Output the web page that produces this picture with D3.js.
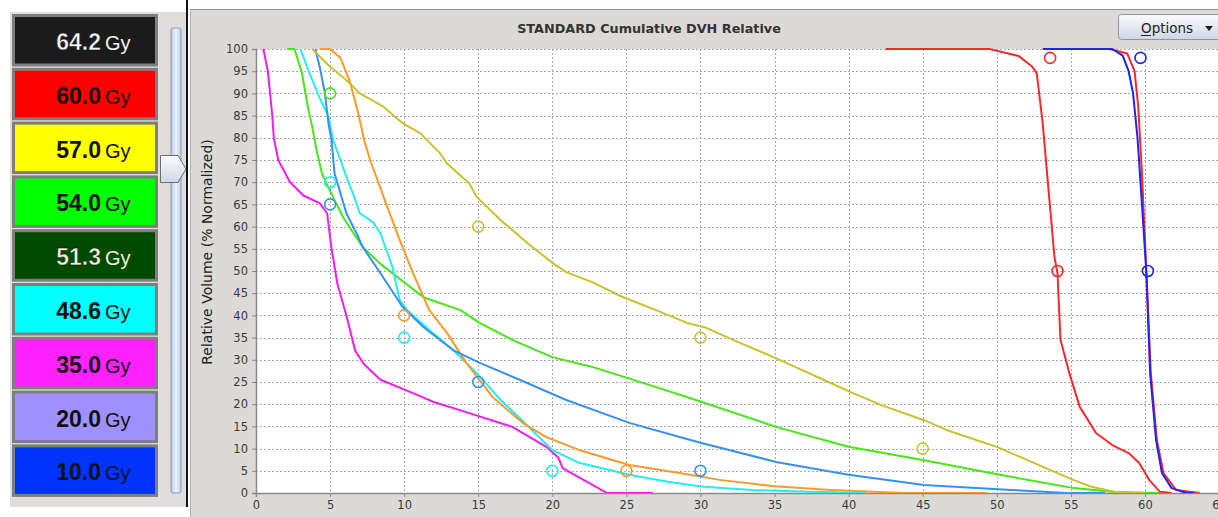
<!DOCTYPE html>
<html>
<head>
<meta charset="utf-8">
<script src="https://cdn.jsdelivr.net/npm/d3@7"></script>
<style>
  html, body { margin: 0; padding: 0; background: #fff; }
  svg { display: block; }
</style>
</head>
<body>
<div id="chart"></div>
<script>
'use strict';

// isodose legend
const doseLevels = ['64.2', '60.0', '57.0', '54.0', '51.3', '48.6', '35.0', '20.0', '10.0'];
const doseFills = ['#1b1b1b', '#ff0000', '#ffff00', '#00ff00', '#004b00', '#00ffff', '#ff22ff', '#a090ff', '#0033ff'];
const doseTextFills = ['#f4f4f4', '#111', '#111', '#111', '#f3f0d8', '#111', '#111', '#111', '#111'];

const xTicks = [0, 5, 10, 15, 20, 25, 30, 35, 40, 45, 50, 55, 60, 65];
const yTicks = [0, 5, 10, 15, 20, 25, 30, 35, 40, 45, 50, 55, 60, 65, 70, 75, 80, 85, 90, 95, 100];

// DVH curves, [dose Gy, volume %]
const magentaDvh = [[0.5, 100], [0.8, 95], [1.1, 85], [1.2, 80], [1.5, 75], [2.3, 70], [3.2, 67], [4.3, 65.3], [4.8, 63], [5.1, 55], [5.5, 47], [6.1, 40], [6.7, 32], [7.3, 29], [8.4, 25.5], [10.6, 22.5], [12.0, 20.5], [14.4, 18], [17.3, 14.9], [19.6, 10.4], [20.4, 8], [20.7, 5.6], [22.2, 2.8], [23.7, 0], [26.8, 0]];
const greenDvh = [[2.1, 100], [2.6, 100], [3.1, 94.6], [3.5, 87], [3.8, 82.4], [4.1, 77], [4.45, 72], [5.0, 68], [5.9, 62], [7.2, 55.4], [8.4, 51.6], [11.3, 44.1], [13.8, 41.2], [15.1, 38.3], [17.3, 34.5], [20.0, 30.6], [22.7, 28.4], [26.6, 24.3], [30.0, 20.6], [35.1, 14.9], [40.0, 10.4], [45.1, 7.4], [50.2, 4.1], [55.2, 1.1], [58.0, 0.2], [61.0, 0]];
const cyanDvh = [[3.0, 100], [3.6, 94.6], [4.3, 89], [4.9, 84.7], [5.2, 79.5], [5.7, 75], [6.1, 71.2], [6.6, 67], [7.0, 63], [7.9, 61], [8.4, 58.5], [9.2, 51], [9.7, 43.5], [10.2, 41.2], [11.7, 36.7], [13.3, 32.2], [14.9, 27], [16.5, 21], [18.0, 16.2], [20.0, 9.7], [21.8, 6.8], [25.2, 4.1], [28.0, 2.4], [30.2, 1.4], [33.5, 0.7], [37.3, 0.3], [41.2, 0]];
const blueDvh = [[4.0, 100], [4.3, 96], [4.65, 90], [4.9, 83], [5.1, 79.5], [5.3, 72], [5.7, 67.5], [6.1, 63], [6.9, 57.7], [7.2, 55.4], [8.4, 49.5], [9.9, 41.9], [11.3, 37.4], [13.3, 32.2], [15.1, 29.3], [17.8, 25.5], [20.9, 21], [25.2, 15.8], [28.6, 12.6], [30.0, 11.3], [35.1, 7.0], [40.0, 4.1], [45.1, 1.8], [51.0, 0.7], [54.7, 0], [57.3, 0]];
const orangeDvh = [[4.3, 100], [5.0, 100], [5.7, 98], [6.3, 93], [6.9, 85.6], [7.3, 79.5], [7.7, 75], [8.2, 70.5], [8.8, 65], [9.7, 57], [10.6, 49.5], [11.7, 41.2], [12.9, 36], [14.2, 29.3], [15.3, 24.5], [16.0, 21.5], [18.0, 15.8], [19.6, 12.6], [21.8, 9.7], [25.2, 6.3], [28.6, 4.5], [31.4, 2.9], [35.0, 1.5], [38.8, 0.7], [43.7, 0], [49.3, 0]];
const oliveDvh = [[3.8, 100], [5.0, 96], [6.1, 93], [7.0, 90], [8.6, 87], [9.9, 83.3], [11.1, 81], [12.4, 76.6], [12.9, 74.2], [14.4, 69.7], [14.9, 66.7], [16.5, 61.5], [18.5, 55.8], [20.1, 51.6], [20.9, 49.8], [22.7, 47.5], [24.7, 44.2], [27.0, 41.2], [29.1, 38.3], [30.4, 37.2], [32.2, 34.5], [35.0, 30.5], [38.3, 25.5], [40.3, 22.5], [42.2, 19.8], [45.1, 16.4], [46.6, 14.2], [50.0, 10.4], [52.5, 6.8], [55.2, 2.9], [56.4, 1.4], [58.3, 0], [60.0, 0]];
const redDvh = [[42.5, 100], [49.5, 100], [50.5, 99.2], [51.5, 98.4], [52.4, 96], [52.7, 94.5], [53.1, 83.3], [53.5, 68], [53.9, 53], [54.1, 49.5], [54.3, 34.5], [54.9, 27], [55.6, 19.4], [56.7, 13.5], [57.8, 10.8], [58.9, 9], [59.6, 6.8], [60.3, 2.9], [61.0, 0.3], [61.8, 0]];
const red2Dvh = [[57.6, 100], [58.8, 99], [59.3, 95], [59.55, 87], [59.8, 72], [60.1, 49.5], [60.4, 27], [60.8, 12], [61.25, 4.5], [62.1, 0.7], [63.7, 0]];
const darkBlueDvh = [[53.1, 100], [57.8, 100], [58.5, 98.5], [58.9, 95], [59.2, 90], [59.5, 80], [59.8, 65], [60.1, 49.5], [60.35, 27], [60.75, 12], [61.15, 4.5], [61.8, 1.1], [62.8, 0], [63.3, 0]];

// dose/volume constraint markers
const markerDose = [5, 5, 5, 10, 10, 15, 15, 20, 25, 30, 30, 45, 53.6, 54.1, 59.7, 60.2];
const markerVolume = [90, 70, 65, 40, 35, 25, 60, 5, 5, 5, 35, 10, 98, 50, 98, 50];
const markerSeries = ['green', 'cyan', 'blue', 'orange', 'cyan', 'blue', 'olive', 'cyan', 'orange', 'blue', 'olive', 'olive', 'red', 'red', 'darkBlue', 'darkBlue'];

const colors = {
  magenta: '#f41cf0',
  green: '#44e815',
  cyan: '#22eef0',
  blue: '#3592f5',
  orange: '#f99a2a',
  olive: '#c9c22c',
  red: '#f52a2a',
  darkBlue: '#2424e6'
};

const curves = [
  { name: 'magenta', data: magentaDvh },
  { name: 'green', data: greenDvh },
  { name: 'cyan', data: cyanDvh },
  { name: 'orange', data: orangeDvh },
  { name: 'blue', data: blueDvh },
  { name: 'olive', data: oliveDvh },
  { name: 'red', data: redDvh },
  { name: 'red', data: red2Dvh },
  { name: 'darkBlue', data: darkBlueDvh }
];

const W = 1218, H = 517;
const plot = { left: 256, top: 49, right: 1219, bottom: 493 };
const uiFont = '"DejaVu Sans", Verdana, sans-serif';

const svg = d3.select('#chart').append('svg')
  .attr('width', W).attr('height', H);

const defs = svg.append('defs');
const trackGrad = defs.append('linearGradient').attr('id', 'track').attr('x1', 0).attr('x2', 1);
trackGrad.append('stop').attr('offset', '0%').attr('stop-color', '#b4c6de');
trackGrad.append('stop').attr('offset', '50%').attr('stop-color', '#eef3fa');
trackGrad.append('stop').attr('offset', '100%').attr('stop-color', '#b9cbe3');
const btnGrad = defs.append('linearGradient').attr('id', 'btn').attr('x1', 0).attr('x2', 0).attr('y1', 0).attr('y2', 1);
btnGrad.append('stop').attr('offset', '0%').attr('stop-color', '#fbfcfe');
btnGrad.append('stop').attr('offset', '100%').attr('stop-color', '#cdd7e6');

drawLegendPanel();
drawChartPanel();

function drawLegendPanel() {
  const g = svg.append('g');
  g.append('rect').attr('x', 10).attr('y', 12).attr('width', 176).attr('height', 495)
    .attr('fill', '#dfdedb');

  const pitch = 53.8;
  doseLevels.forEach((lvl, i) => {
    const y0 = 15 + i * pitch;
    g.append('rect')
      .attr('x', 13.5).attr('y', y0 + 0.5).attr('width', 143).attr('height', 49.5)
      .attr('fill', doseFills[i]).attr('stroke', '#7e7e7e').attr('stroke-width', 3);
    g.append('text')
      .attr('x', 101).attr('y', y0 + 35)
      .attr('text-anchor', 'end')
      .style('font', 'bold 23px "Liberation Sans", Arial, sans-serif')
      .attr('fill', doseTextFills[i])
      .attr('stroke', i === 0 || i === 4 ? '#000' : 'none')
      .attr('stroke-width', 0.4)
      .text(lvl);
    g.append('text')
      .attr('x', 105).attr('y', y0 + 35)
      .style('font', '20px "Liberation Sans", Arial, sans-serif')
      .attr('fill', doseTextFills[i])
      .text('Gy');
  });

  // slider
  g.append('rect').attr('x', 171).attr('y', 28).attr('width', 10).attr('height', 465)
    .attr('rx', 2).attr('fill', 'url(#track)').attr('stroke', '#8aa0c0');
  g.append('path')
    .attr('d', 'M160.5,155.5 H178 L186,169 L178,182.5 H160.5 Z')
    .attr('fill', 'url(#btn)').attr('stroke', '#6f6f6f');

  g.append('rect').attr('x', 186).attr('y', 0).attr('width', 2).attr('height', 507)
    .attr('fill', '#111');
}

function drawChartPanel() {
  const g = svg.append('g');
  g.append('rect').attr('x', 190).attr('y', 9).attr('width', W - 190).attr('height', H - 9)
    .attr('fill', '#dcdad6');
  g.append('line').attr('x1', 190).attr('x2', W).attr('y1', 9.5).attr('y2', 9.5)
    .attr('stroke', '#8d9299');
  g.append('line').attr('x1', 190.5).attr('x2', 190.5).attr('y1', 9).attr('y2', H)
    .attr('stroke', '#b0b0b0');

  g.append('text')
    .attr('x', 649).attr('y', 33)
    .attr('text-anchor', 'middle')
    .style('font', `bold 12.8px ${uiFont}`)
    .attr('fill', '#333')
    .text('STANDARD Cumulative DVH Relative');

  // Options button
  g.append('rect').attr('x', 1118.5).attr('y', 14.5).attr('width', 110).attr('height', 25)
    .attr('rx', 3).attr('fill', 'url(#btn)').attr('stroke', '#8797ad');
  g.append('text')
    .attr('x', 1141).attr('y', 33)
    .style('font', `13.5px ${uiFont}`)
    .attr('fill', '#222')
    .text('Options');
  g.append('line').attr('x1', 1141).attr('x2', 1151).attr('y1', 35.5).attr('y2', 35.5)
    .attr('stroke', '#222');
  g.append('path').attr('d', 'M1205,26 L1213,26 L1209,31 Z').attr('fill', '#222');

  const x = d3.scaleLinear().domain([0, 65]).range([plot.left, plot.right]);
  const y = d3.scaleLinear().domain([0, 100]).range([plot.bottom, plot.top]);

  g.append('rect')
    .attr('x', plot.left).attr('y', plot.top)
    .attr('width', plot.right - plot.left).attr('height', plot.bottom - plot.top)
    .attr('fill', '#fff');

  // grid
  const grid = g.append('g').attr('stroke', '#a9a9a9').attr('stroke-dasharray', '2,2');
  grid.selectAll('line.v').data(xTicks.filter(d => d > 0)).join('line')
    .attr('x1', d => Math.round(x(d)) + 0.5).attr('x2', d => Math.round(x(d)) + 0.5)
    .attr('y1', plot.top).attr('y2', plot.bottom);
  grid.selectAll('line.h').data(yTicks.filter(d => d > 0)).join('line')
    .attr('y1', d => Math.round(y(d)) + 0.5).attr('y2', d => Math.round(y(d)) + 0.5)
    .attr('x1', plot.left).attr('x2', plot.right);

  const xAxis = g.append('g')
    .attr('transform', `translate(0,${plot.bottom})`)
    .call(d3.axisBottom(x).tickValues(xTicks).tickSize(4).tickPadding(4).tickFormat(d3.format('d')));
  const yAxis = g.append('g')
    .attr('transform', `translate(${plot.left},0)`)
    .call(d3.axisLeft(y).tickValues(yTicks).tickSize(4).tickPadding(4).tickFormat(d3.format('d')));
  [xAxis, yAxis].forEach(ax => {
    ax.select('.domain').attr('stroke', '#8a8a8a').attr('stroke-width', 1.5);
    ax.selectAll('.tick line').attr('stroke', '#8a8a8a');
    ax.selectAll('.tick text')
      .style('font', `11.5px ${uiFont}`)
      .attr('fill', '#3a3a3a');
  });

  g.append('text')
    .attr('transform', 'translate(212,252) rotate(-90)')
    .attr('text-anchor', 'middle')
    .style('font', `14px ${uiFont}`)
    .attr('fill', '#222')
    .text('Relative Volume (% Normalized)');

  // curves
  const clip = defs.append('clipPath').attr('id', 'plotclip');
  clip.append('rect').attr('x', plot.left).attr('y', plot.top - 2)
    .attr('width', plot.right - plot.left).attr('height', plot.bottom - plot.top + 2);

  const line = d3.line().x(d => x(d[0])).y(d => y(d[1]));
  const layer = g.append('g').attr('clip-path', 'url(#plotclip)');
  layer.selectAll('path.dvh').data(curves).join('path')
    .attr('class', 'dvh')
    .attr('d', d => line(d.data))
    .attr('fill', 'none')
    .attr('stroke', d => colors[d.name])
    .attr('stroke-width', 2)
    .attr('stroke-linejoin', 'round');

  layer.selectAll('circle.marker').data(markerDose).join('circle')
    .attr('class', 'marker')
    .attr('cx', d => x(d))
    .attr('cy', (d, i) => y(markerVolume[i]))
    .attr('r', 5.5)
    .attr('fill', 'none')
    .attr('stroke', (d, i) => colors[markerSeries[i]])
    .attr('stroke-width', 1.6);
}
</script>
</body>
</html>
